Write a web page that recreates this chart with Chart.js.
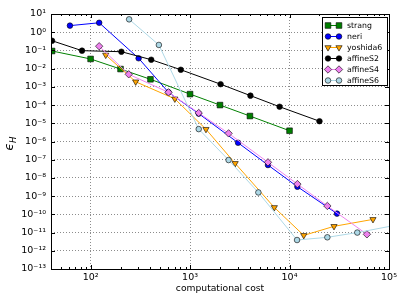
<!DOCTYPE html>
<html><head><meta charset="utf-8">
<script src="https://cdn.jsdelivr.net/npm/chart.js@4"></script>
<style>html,body{margin:0;padding:0;background:#fff}#wrap{width:407px;height:305px;position:relative}</style>
</head><body><div id="wrap"><canvas id="c" width="407" height="305"></canvas></div>
<script>
// ---- data ----
const xTickValues = [100, 1000, 10000, 100000];
const yTickExponents = [1,0,-1,-2,-3,-4,-5,-6,-7,-8,-9,-10,-11,-12,-13];
const seriesNames = ['strang','neri','yoshida6','affineS2','affineS4','affineS6'];
const xAxisTitle = 'computational cost';

const strangCost = [41, 100, 200, 400, 1000, 2000, 4000, 10000];
const strangErr  = [0.093, 0.034, 0.0095, 0.0026, 4.0e-4, 1.0e-4, 2.5e-5, 3.9e-6];

const neriCost = [62, 122, 304, 607, 1222, 3040, 6070, 12000, 30000];
const neriErr  = [2.3, 3.3, 0.037, 5.0e-4, 3.4e-5, 8.5e-7, 5.1e-8, 3.3e-9, 1.1e-10];

const yoshidaCost = [142, 284, 703, 1445, 2840, 7030, 13900, 28000, 69000];
const yoshidaErr  = [0.056, 1.9e-3, 2.2e-4, 4.7e-6, 6.3e-8, 2.4e-10, 7e-12, 2.2e-11, 5.3e-11];

const affS2Cost = [41, 82, 204, 407, 807, 2028, 4045, 7943, 20000];
const affS2Err  = [0.34, 0.097, 0.085, 0.031, 0.0087, 1.4e-3, 3.3e-4, 8.1e-5, 1.3e-5];

const affS4Cost = [122, 242, 607, 1222, 2440, 6070, 12000, 24000, 60000];
const affS4Err  = [0.17, 4.9e-3, 5.0e-4, 3.7e-5, 2.8e-6, 7.2e-8, 4.6e-9, 2.9e-10, 8e-12];

const affS6Cost = [244, 486, 1222, 2440, 4860, 11900, 24000, 48000, 120000];
const affS6Err  = [5.1, 0.2, 4.8e-6, 9.6e-8, 1.6e-9, 3.9e-12, 5.5e-12, 1.0e-11, 2.6e-11];

// ---- styles ----
const SUP = {'-':'⁻','0':'⁰','1':'¹','2':'²','3':'³','4':'⁴','5':'⁵','6':'⁶','7':'⁷','8':'⁸','9':'⁹'};
const pow10 = e => '10' + String(e).split('').map(c => SUP[c]).join('');
const FONT = "'DejaVu Sans', sans-serif";

const styles = [
  {color:'#008000', style:'rect',     rot:0,   r:4.0},
  {color:'#0000ff', style:'circle',   rot:0,   r:2.8},
  {color:'#ffa500', style:'triangle', rot:180, r:3.6},
  {color:'#000000', style:'circle',   rot:0,   r:2.8},
  {color:'#ee82ee', style:'rectRot',  rot:0,   r:3.7},
  {color:'#add8e6', style:'circle',   rot:0,   r:2.8}
];
const xs = [strangCost, neriCost, yoshidaCost, affS2Cost, affS4Cost, affS6Cost];
const ys = [strangErr, neriErr, yoshidaErr, affS2Err, affS4Err, affS6Err];

const datasets = seriesNames.map((name, i) => ({
  label: name,
  data: xs[i].map((x, j) => ({x, y: ys[i][j]})),
  borderColor: styles[i].color,
  backgroundColor: styles[i].color,
  borderWidth: 1,
  pointStyle: styles[i].style,
  pointRotation: styles[i].rot,
  pointRadius: styles[i].r,
  pointHoverRadius: styles[i].r,
  pointBackgroundColor: styles[i].color,
  pointBorderColor: '#000',
  pointBorderWidth: 0.6,
  tension: 0,
  fill: false,
  clip: 0,
  order: 5 - i
}));

const deco = {
  id: 'deco',
  afterDraw(chart) {
    const {ctx, chartArea: a, scales: {x, y}} = chart;
    ctx.save();
    ctx.strokeStyle = '#000';
    ctx.lineWidth = 1;
    const line = (x1, y1, x2, y2) => { ctx.beginPath(); ctx.moveTo(x1, y1); ctx.lineTo(x2, y2); ctx.stroke(); };
    // x ticks (major + minor), inward on top and bottom
    for (let e = 1; e <= 5; e++) for (let m = 1; m < 10; m++) {
      const v = m * Math.pow(10, e);
      if (v < x.min || v > x.max) continue;
      const px = Math.round(x.getPixelForValue(v)) + 0.5;
      const L = m === 1 ? 4 : 2;
      line(px, a.bottom, px, a.bottom - L);
      line(px, a.top, px, a.top + L);
    }
    // y ticks inward left and right
    for (const e of yTickExponents) {
      const py = Math.round(y.getPixelForValue(Math.pow(10, e))) + 0.5;
      line(a.left, py, a.left + 4, py);
      line(a.right, py, a.right - 4, py);
    }
    // frame
    ctx.strokeRect(Math.round(a.left) + 0.5, Math.round(a.top) + 0.5,
                   Math.round(a.right - a.left), Math.round(a.bottom - a.top));
    // x-axis title
    ctx.fillStyle = '#000';
    ctx.font = "9.2px " + FONT;
    ctx.textAlign = 'center';
    ctx.textBaseline = 'middle';
    ctx.fillText(xAxisTitle, (a.left + a.right) / 2, 289);
    // y-axis title: epsilon_H
    ctx.save();
    ctx.translate(10, (a.top + a.bottom) / 2 + 2);
    ctx.rotate(-Math.PI / 2);
    ctx.textAlign = 'left';
    ctx.textBaseline = 'alphabetic';
    ctx.font = "italic 12px " + FONT;
    const w1 = ctx.measureText('ϵ').width;
    ctx.font = "italic 8.5px " + FONT;
    const w2 = ctx.measureText('H').width;
    const sx = -(w1 + w2) / 2;
    ctx.font = "italic 12px " + FONT;
    ctx.fillText('ϵ', sx, 3);
    ctx.font = "italic 8.5px " + FONT;
    ctx.fillText('H', sx + w1, 6);
    ctx.restore();
    // legend
    const lx = 322, ly = 17, lw = 65, lh = 68;
    ctx.fillStyle = '#fff';
    ctx.fillRect(lx, ly, lw, lh);
    ctx.strokeStyle = '#000';
    ctx.lineWidth = 1;
    ctx.strokeRect(lx + 0.5, ly + 0.5, lw, lh);
    ctx.font = "7.8px " + FONT;
    ctx.textBaseline = 'middle';
    ctx.textAlign = 'left';
    seriesNames.forEach((name, i) => {
      const cy = 25.5 + i * 11;
      const s = styles[i];
      ctx.strokeStyle = s.color;
      ctx.lineWidth = 1;
      line(328, cy, 339, cy);
      ctx.fillStyle = s.color;
      ctx.strokeStyle = '#000';
      ctx.lineWidth = 0.6;
      for (const px of [328, 339]) {
        Chart.helpers.drawPoint(ctx, {pointStyle: s.style, rotation: s.rot, radius: s.r, borderWidth: 0.6}, px, cy);
      }
      ctx.fillStyle = '#000';
      ctx.fillText(name, 347, cy + 0.5);
    });
    ctx.restore();
  }
};

const gridColor = 'rgba(0,0,0,0.45)';
new Chart(document.getElementById('c'), {
  type: 'line',
  data: { datasets },
  options: {
    responsive: false,
    animation: false,
    devicePixelRatio: 1,
    layout: { padding: { top: 14, right: 18, left: 0, bottom: 0 } },
    plugins: { legend: { display: false }, tooltip: { enabled: false } },
    scales: {
      x: {
        type: 'logarithmic',
        min: 40, max: 100000,
        afterBuildTicks: s => { s.ticks = xTickValues.map(v => ({value: v})); },
        afterFit: s => { s.height = 36; },
        ticks: {
          callback: v => pow10(Math.round(Math.log10(v))),
          font: { family: FONT, size: 9.5 }, color: '#000',
          maxRotation: 0, autoSkip: false, padding: 3
        },
        grid: { color: gridColor, lineWidth: 1, drawTicks: false },
        border: { display: false, dash: [1, 2] }
      },
      y: {
        type: 'logarithmic',
        min: 1e-13, max: 10,
        afterBuildTicks: s => { s.ticks = yTickExponents.map(e => ({value: Math.pow(10, e)})); },
        afterFit: s => { s.width = 51; },
        ticks: {
          callback: v => pow10(Math.round(Math.log10(v))),
          font: { family: FONT, size: 9.5 }, color: '#000',
          autoSkip: false, padding: 5
        },
        grid: { color: gridColor, lineWidth: 1, drawTicks: false },
        border: { display: false, dash: [1, 2] }
      }
    }
  },
  plugins: [deco]
});
</script>
</body></html>
